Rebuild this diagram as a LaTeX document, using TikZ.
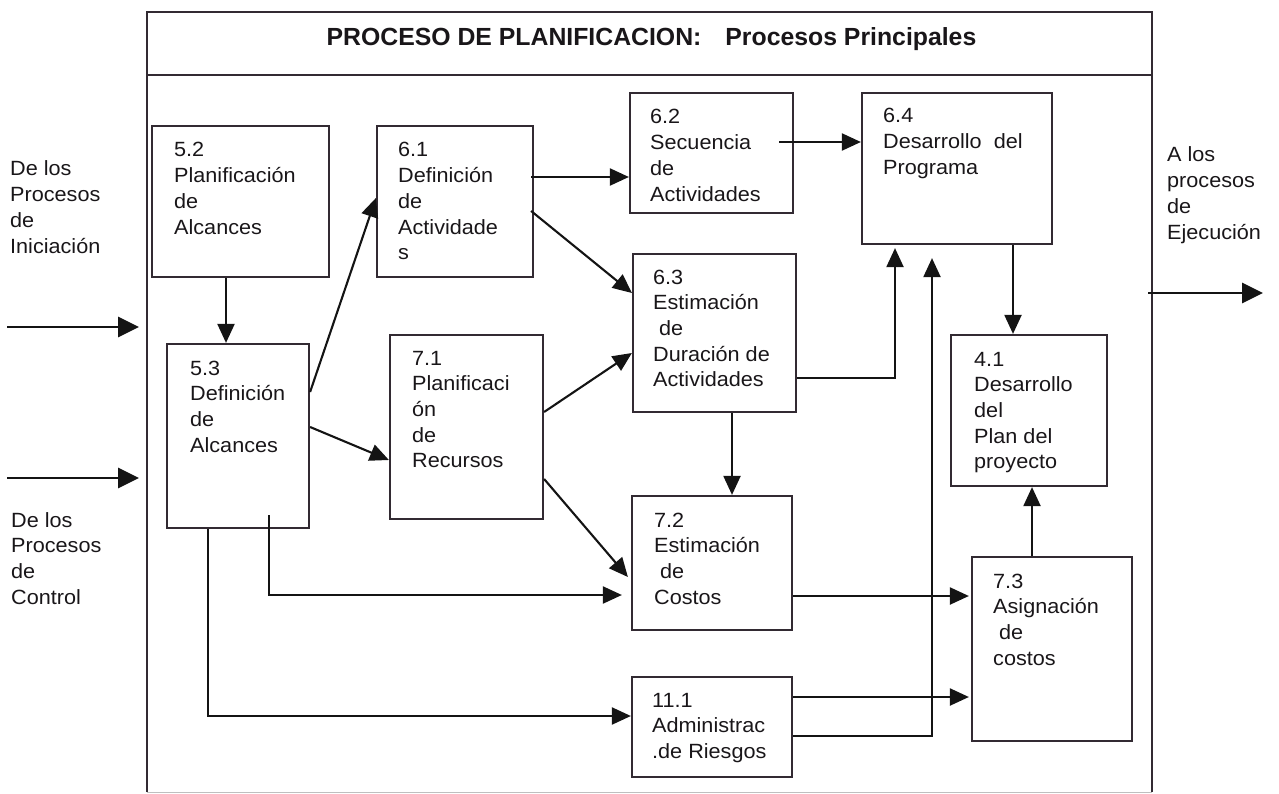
\documentclass[tikz,border=0pt]{standalone}
\usepackage{fontspec}
\setmainfont{Liberation Sans}[FakeStretch=1.05]
\newfontfamily\hdfont{Liberation Sans}
\usetikzlibrary{arrows.meta}
\definecolor{ln}{RGB}{50,42,50}
\definecolor{tx}{RGB}{25,22,25}
\newcommand\lbl[1]{\parbox[t]{200pt}{\fontsize{20.6}{25.7}\selectfont\raggedright #1}}
\begin{document}
\begin{tikzpicture}[x=1pt,y=-1pt,
  pbox/.style={draw=ln, line width=2.2pt, inner sep=0pt, rectangle},
  ptxt/.style={anchor=base west, inner sep=0pt, text=tx},
  conn/.style={draw=black!92, line width=2.1pt, -{Triangle[length=19pt,width=17pt]}},
  extarr/.style={draw=black!92, line width=2.8pt, -{Triangle[length=21pt,width=20pt]}},
  frameln/.style={draw=ln, line width=2.2pt}]
\useasboundingbox (0,0) rectangle (1279,794);
% frame
\draw[frameln] (147,792) -- (147,12) -- (1152,12) -- (1152,792);
\draw[black!25, line width=1pt] (147,792) -- (1152,792);
\draw[frameln] (147,75) -- (1152,75);
\node[anchor=base, inner sep=0pt, text=tx] (title) at (651.5,46)
  {\hdfont\bfseries\fontsize{24.8}{30}\selectfont PROCESO DE PLANIFICACION:\hspace{24pt}Procesos Principales};
% boxes
\node[pbox, minimum width=177pt, minimum height=151pt] (b52) at (240.5,201.5) {};
\node[pbox, minimum width=142pt, minimum height=184pt] (b53) at (238,436) {};
\node[pbox, minimum width=156pt, minimum height=151pt] (b61) at (455,201.5) {};
\node[pbox, minimum width=153pt, minimum height=184pt] (b71) at (466.5,427) {};
\node[pbox, minimum width=163pt, minimum height=120pt] (b62) at (711.5,153) {};
\node[pbox, minimum width=163pt, minimum height=158pt] (b63) at (714.5,333) {};
\node[pbox, minimum width=190pt, minimum height=151pt] (b64) at (957,168.5) {};
\node[pbox, minimum width=156pt, minimum height=151pt] (b41) at (1029,410.5) {};
\node[pbox, minimum width=160pt, minimum height=134pt] (b72) at (712,563) {};
\node[pbox, minimum width=160pt, minimum height=184pt] (b73) at (1052,649) {};
\node[pbox, minimum width=160pt, minimum height=100pt] (b111) at (712,727) {};
% texts
\node[ptxt] (t52) at (174,157) {\lbl{5.2\\Planificación\\de\\Alcances}};
\node[ptxt] (t53) at (190,375) {\lbl{5.3\\Definición\\de\\Alcances}};
\node[ptxt] (t61) at (398,157) {\lbl{6.1\\Definición\\de\\Actividade\\s}};
\node[ptxt] (t71) at (412,365) {\lbl{7.1\\Planificaci\\ón\\de\\Recursos}};
\node[ptxt] (t62) at (650,124) {\lbl{6.2\\Secuencia\\de\\Actividades}};
\node[ptxt] (t63) at (653,284) {\lbl{6.3\\Estimación\\\ de\\Duración de\\Actividades}};
\node[ptxt] (t64) at (883,123) {\lbl{6.4\\Desarrollo\ \ del\\Programa}};
\node[ptxt] (t41) at (974,366) {\lbl{4.1\\Desarrollo\\del\\Plan del\\proyecto}};
\node[ptxt] (t72) at (654,527) {\lbl{7.2\\Estimación\\\ de\\Costos}};
\node[ptxt] (t111) at (652,707) {\lbl{11.1\\Administrac\\.de Riesgos}};
\node[ptxt] (t73) at (993,588) {\lbl{7.3\\Asignación\\\ de\\costos}};
\node[ptxt] (lini) at (10,176) {\lbl{De los\\Procesos\\de\\Iniciación}};
\node[ptxt] (lctl) at (11,527) {\lbl{De los\\Procesos\\de\\Control}};
\node[ptxt] (lejec) at (1167,162) {\lbl{A los\\procesos\\de\\Ejecución}};
% external arrows
\coordinate (in1s) at (7,327);  \coordinate (in1e) at (139,327);
\coordinate (in2s) at (7,478);  \coordinate (in2e) at (139,478);
\coordinate (outs) at (1148,293); \coordinate (oute) at (1263,293);
\draw[extarr] (in1s) -- (in1e);
\draw[extarr] (in2s) -- (in2e);
\draw[extarr] (outs) -- (oute);
% connectors
\draw[conn] ([xshift=-14.5pt]b52.south) -- ([xshift=-12pt]b53.north);
\draw[conn] ([yshift=44pt]b53.east) -- ([yshift=3.5pt]b61.west);
\draw[conn] ([yshift=9pt]b53.east) -- ([yshift=-33pt]b71.west);
\draw[conn] ([xshift=-3pt,yshift=24.5pt]b61.east) -- ([yshift=-24pt]b62.west);
\draw[conn] ([xshift=-3pt,yshift=-9.5pt]b61.east) -- ([yshift=40pt]b63.west);
\draw[conn] ([yshift=15pt]b71.east) -- ([yshift=-20pt]b63.west);
\draw[conn] ([yshift=-52pt]b71.east) -- ([xshift=-3pt,yshift=-14pt]b72.west);
\draw[conn] ([xshift=-15pt,yshift=11pt]b62.east) -- ([yshift=26.5pt]b64.west);
\draw[conn, shorten >=3pt] ([yshift=-45pt]b63.east) -| ([xshift=-62pt]b64.south);
\draw[conn] ([xshift=17.5pt]b63.south) -- ([xshift=20pt]b72.north);
\draw[conn] ([xshift=56pt]b64.south) -- ([xshift=-16pt]b41.north);
\draw[conn, shorten >=9pt] ([xshift=31pt,yshift=14pt]b53.south) |- ([yshift=-32pt]b72.west);
\draw[conn] ([xshift=-30pt]b53.south) |- ([yshift=11pt]b111.west);
\draw[conn, shorten >=2pt] ([yshift=-33pt]b72.east) -- ([yshift=53pt]b73.west);
\draw[conn, shorten >=2pt] ([yshift=30pt]b111.east) -- ([yshift=-48pt]b73.west);
\draw[conn, shorten >=13pt] ([yshift=-9pt]b111.east) -| ([xshift=-25pt]b64.south);
\draw[conn] ([xshift=-20pt]b73.north) -- ([xshift=3pt]b41.south);
\end{tikzpicture}
\end{document}
